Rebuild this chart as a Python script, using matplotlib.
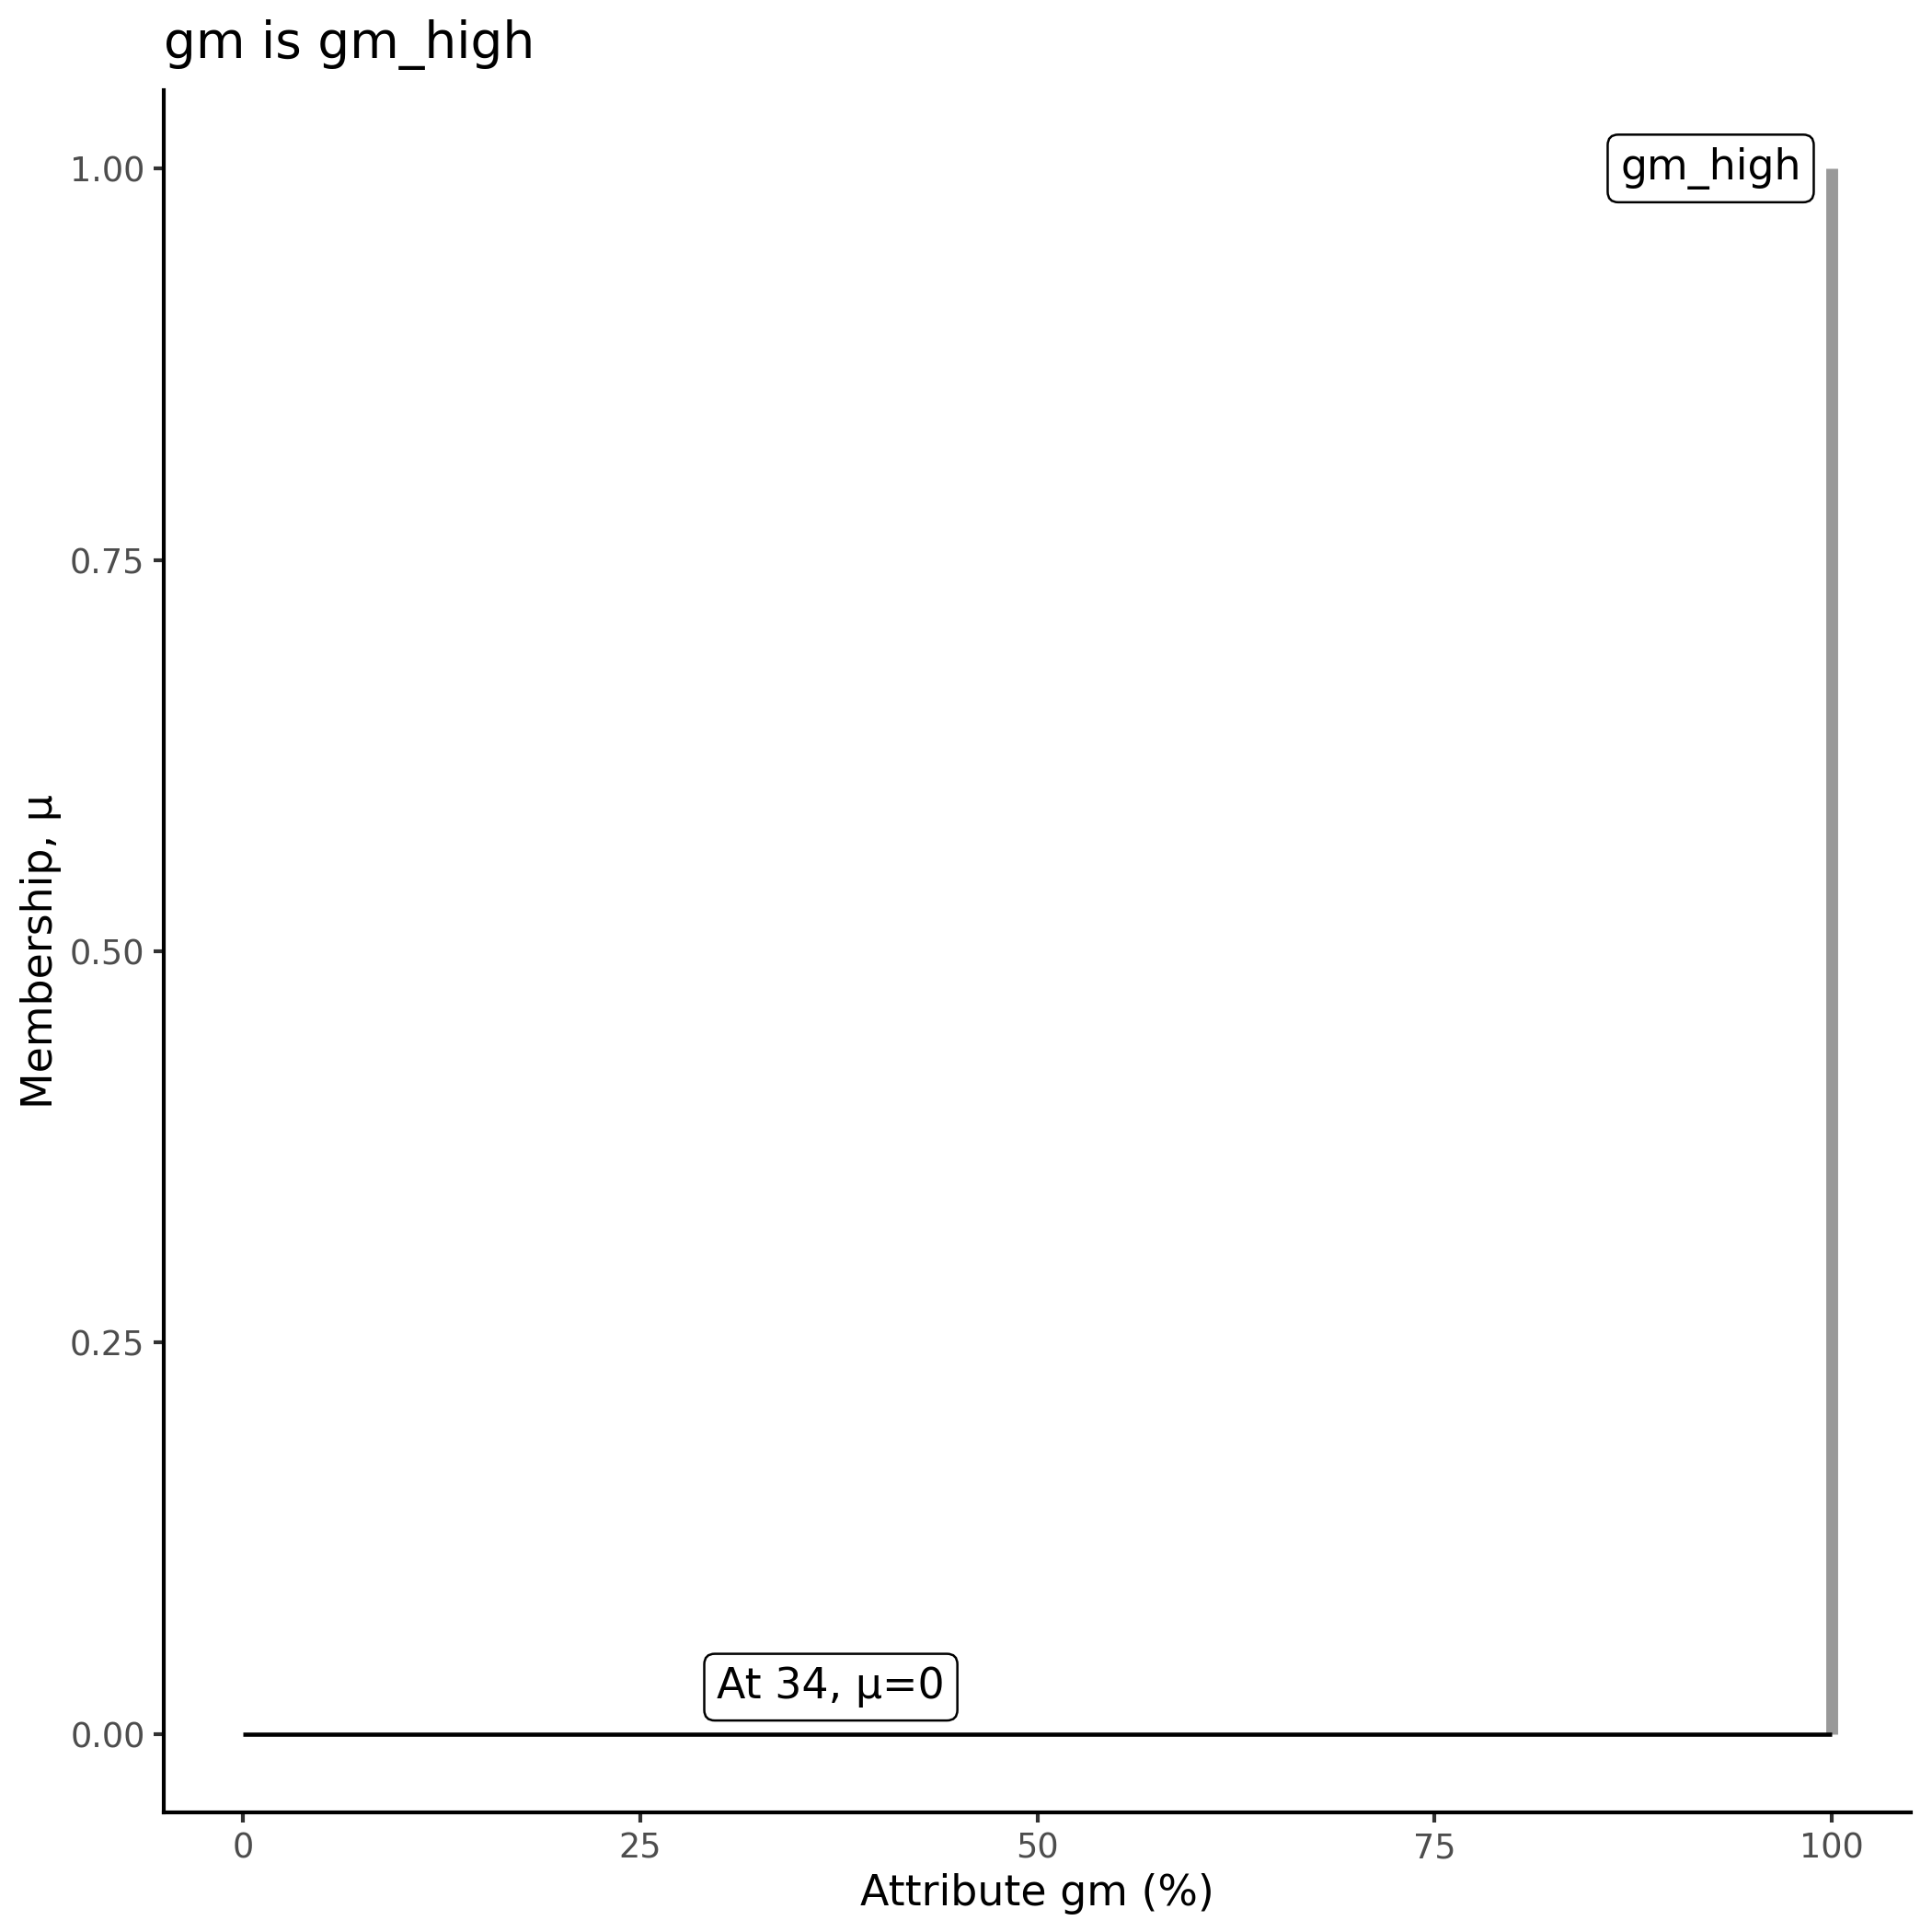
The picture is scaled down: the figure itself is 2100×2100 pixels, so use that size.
import numpy as np
import matplotlib
matplotlib.use("Agg")
import matplotlib.pyplot as plt

# membership data
set_x = [100, 100]
set_mu = [0, 1]
result_x = [0, 100]
result_mu = [0, 0]
set_name = "gm_high"
result_label = "At 34, \u03bc=0"
xticks = [0, 25, 50, 75, 100]
yticks = [0.0, 0.25, 0.5, 0.75, 1.0]
ytick_labels = ["0.00", "0.25", "0.50", "0.75", "1.00"]

plt.rcParams['font.family'] = ['DejaVu Sans']

fig = plt.figure(figsize=(7, 7), dpi=300)
ax = fig.add_axes([178/2100, 1 - 1970/2100, (2077-178)/2100, (1970-98)/2100])

ax.plot(set_x, set_mu, color="#999999", lw=3.1, solid_capstyle="butt", zorder=2)
ax.plot(result_x, result_mu, color="black", lw=1.1, solid_capstyle="butt", zorder=3)

box = dict(boxstyle="round,pad=0.3,rounding_size=0.25", fc="white", ec="black", lw=0.6)
ax.text(92.4, 1.0, set_name, ha="center", va="center", fontsize=11, bbox=box, zorder=4)
ax.text(37.0, 0.03, result_label, ha="center", va="center", fontsize=11, bbox=box, zorder=4)

ax.set_xlim(-5, 105)
ax.set_ylim(-0.05, 1.05)
ax.set_xticks(xticks)
ax.set_yticks(yticks)
ax.set_yticklabels(ytick_labels)
ax.tick_params(axis="both", length=2.7, width=1.0, color="#333333",
               labelcolor="#4D4D4D", labelsize=8.8, pad=2.2)
for s in ["top", "right"]:
    ax.spines[s].set_visible(False)
for s in ["left", "bottom"]:
    ax.spines[s].set_linewidth(1.0)

ax.set_xlabel("Attribute gm (%)", fontsize=11, labelpad=2)
ax.set_ylabel("Membership, \u03bc", fontsize=11, labelpad=2.2)

fig.text(178/2100, 1 - 63/2100, "gm is gm_high", fontsize=13.2, ha="left", va="baseline")

fig.savefig("out.png", dpi=300)
